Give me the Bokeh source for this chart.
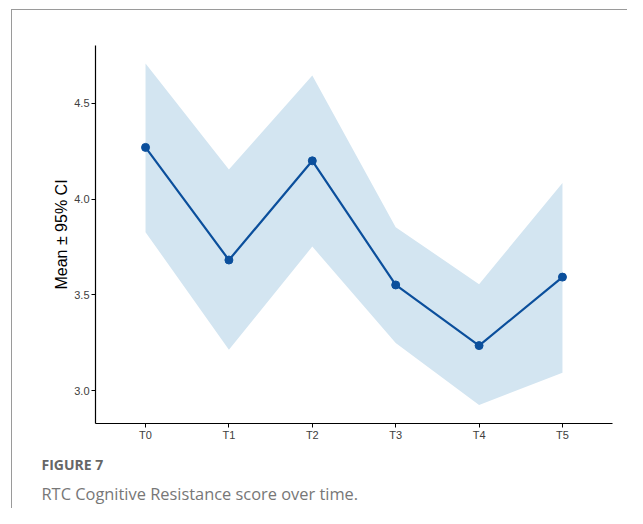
from bokeh.plotting import figure
from bokeh.models import ColumnDataSource, Title, FixedTicker, CustomJSTickFormatter
from bokeh.embed import file_html
from bokeh.resources import INLINE

times = ["T0", "T1", "T2", "T3", "T4", "T5"]
mean = [4.269, 3.682, 4.199, 3.552, 3.236, 3.593]
upper = [4.706, 4.154, 4.643, 3.853, 3.556, 4.084]
lower = [3.827, 3.215, 3.752, 3.250, 2.927, 3.095]
y_ticks = [3.0, 3.5, 4.0, 4.5]

xs = list(range(len(times)))
src = ColumnDataSource(dict(x=xs, mean=mean, upper=upper, lower=lower))

p = figure(width=616, height=499, output_backend="svg", toolbar_location=None,
           x_range=(-0.6, 5.6), y_range=(2.83, 4.80),
           min_border_left=83, min_border_right=16, min_border_top=35, min_border_bottom=86)
p.styles = {"margin-left": "11px", "margin-top": "9px",
            "border-top": "1px solid #9a9a9a", "border-left": "1px solid #9a9a9a"}
p.background_fill_color = "white"
p.border_fill_color = "white"
p.outline_line_color = None
p.xgrid.grid_line_color = None
p.ygrid.grid_line_color = None

p.varea(x="x", y1="lower", y2="upper", source=src, fill_color="#d3e5f1", fill_alpha=1.0)
p.line(x="x", y="mean", source=src, line_color="#0b4f9c", line_width=2.2)
p.scatter(x="x", y="mean", source=src, size=8, fill_color="#0b4f9c", line_color="#0b4f9c")

p.xaxis.ticker = FixedTicker(ticks=xs)
p.xaxis.major_label_overrides = {i: t for i, t in enumerate(times)}
p.yaxis.ticker = FixedTicker(ticks=y_ticks)
p.yaxis.formatter = CustomJSTickFormatter(code="return tick.toFixed(1);")

for ax in (p.xaxis[0], p.yaxis[0]):
    ax.axis_line_color = "black"
    ax.axis_line_width = 1.2
    ax.major_tick_line_color = "black"
    ax.major_tick_line_width = 1.0
    ax.major_tick_out = 4
    ax.major_tick_in = 0
    ax.minor_tick_line_color = None
    ax.major_label_text_font = "Liberation Sans"
    ax.major_label_text_font_size = "11px"
    ax.major_label_text_color = "#404040"
    ax.major_label_standoff = 2
p.xaxis.major_label_standoff = 1

p.yaxis.axis_label = "Mean \u00b1 95% CI"
p.yaxis.axis_label_text_font = "Liberation Sans"
p.yaxis.axis_label_text_font_size = "16px"
p.yaxis.axis_label_text_font_style = "normal"
p.yaxis.axis_label_text_color = "black"
p.yaxis.axis_label_standoff = 1

p.add_layout(Title(text="FIGURE 7", align="left", offset=-54, standoff=18,
                   text_font="Open Sans", text_font_size="14px", text_font_style="bold",
                   text_color="#666666"), "below")
p.add_layout(Title(text="RTC Cognitive Resistance score over time.", align="left",
                   offset=-54, standoff=-5,
                   text_font="Open Sans", text_font_size="16.4px", text_font_style="normal",
                   text_color="#777777"), "below")

open("out.html", "w").write(file_html(p, INLINE))
